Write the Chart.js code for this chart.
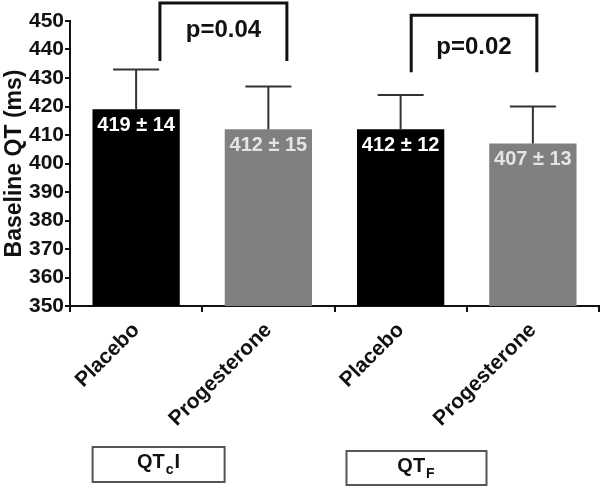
<!DOCTYPE html>
<html>
<head>
<meta charset="utf-8">
<script src="https://cdn.jsdelivr.net/npm/chart.js@4.4.1/dist/chart.umd.min.js"></script>
<style>
  html, body { margin: 0; padding: 0; background: #fff; }
</style>
</head>
<body>
<canvas id="qtChart" width="601" height="488"></canvas>
<script>
const categories = ['Placebo', 'Progesterone', 'Placebo', 'Progesterone'];
const baselineQT = [419, 412, 412, 407];
const sdQT = [14, 15, 12, 13];
const yTicks = [350, 360, 370, 380, 390, 400, 410, 420, 430, 440, 450];
const pLabels = ['p=0.04', 'p=0.02'];
const groupNames = [['QT', 'c', 'I'], ['QT', 'F', '']];

const FONT = '"Liberation Sans", Arial, sans-serif';

// brackets + group boxes, placed in axis units
const brackets = [
    { x0: 0.18, x1: 1.14, top: 456.3, bottom: 436, textY: 446.8 },
    { x0: 2.08, x1: 3.03, top: 452, bottom: 432, textY: 440.9 }
];
const boxes = [
    { cx: 0.17, w: 132, top: 447, h: 35 },
    { cx: 2.12, w: 140, top: 451, h: 34 }
];

const extras = {
    id: 'extras',
    afterDatasetsDraw(chart) {
        const ctx = chart.ctx;
        const y = chart.scales.y;
        const meta = chart.getDatasetMeta(0);
        ctx.save();
        // error bars (upper only)
        ctx.strokeStyle = '#333';
        ctx.lineWidth = 2;
        meta.data.forEach((bar, i) => {
            const top = y.getPixelForValue(baselineQT[i] + sdQT[i]);
            ctx.beginPath();
            ctx.moveTo(bar.x, bar.y);
            ctx.lineTo(bar.x, top);
            ctx.moveTo(bar.x - 23, top);
            ctx.lineTo(bar.x + 23, top);
            ctx.stroke();
        });
        // value labels inside bars
        ctx.font = 'bold 20px ' + FONT;
        ctx.textAlign = 'center';
        ctx.textBaseline = 'middle';
        meta.data.forEach((bar, i) => {
            ctx.fillStyle = i % 2 === 0 ? '#fff' : '#e4e4e4';
            ctx.fillText(baselineQT[i] + ' \u00b1 ' + sdQT[i], bar.x, bar.y + 16);
        });
        ctx.restore();
    },
    afterDraw(chart) {
        const ctx = chart.ctx;
        const x = chart.scales.x, y = chart.scales.y;
        ctx.save();
        // significance brackets
        ctx.strokeStyle = '#111';
        ctx.lineWidth = 3;
        brackets.forEach((b, i) => {
            const xa = x.getPixelForValue(b.x0), xb = x.getPixelForValue(b.x1);
            const yt = y.getPixelForValue(b.top), yb = y.getPixelForValue(b.bottom);
            ctx.beginPath();
            ctx.moveTo(xa, yb);
            ctx.lineTo(xa, yt);
            ctx.lineTo(xb, yt);
            ctx.lineTo(xb, yb);
            ctx.stroke();
            ctx.fillStyle = '#111';
            ctx.font = 'bold 24px ' + FONT;
            ctx.textAlign = 'center';
            ctx.textBaseline = 'middle';
            ctx.fillText(pLabels[i], (xa + xb) / 2, y.getPixelForValue(b.textY));
        });
        // group boxes under the axis
        ctx.strokeStyle = '#555';
        ctx.lineWidth = 2;
        boxes.forEach((bx, i) => {
            const cx = x.getPixelForValue(bx.cx);
            ctx.strokeRect(cx - bx.w / 2, bx.top, bx.w, bx.h);
            const [main, sub, tail] = groupNames[i];
            const big = 'bold 20px ' + FONT, small = 'bold 14px ' + FONT;
            ctx.font = big;
            const wMain = ctx.measureText(main).width;
            const wTail = ctx.measureText(tail).width;
            ctx.font = small;
            const wSub = ctx.measureText(sub).width;
            let tx = cx - (wMain + wSub + 2 + wTail) / 2;
            const ty = bx.top + bx.h / 2 - 2;
            ctx.fillStyle = '#111';
            ctx.textAlign = 'left';
            ctx.textBaseline = 'middle';
            ctx.font = big;
            ctx.fillText(main, tx, ty);
            tx += wMain + 1;
            ctx.font = small;
            ctx.fillText(sub, tx, ty + 8);
            tx += wSub + 1;
            ctx.font = big;
            ctx.fillText(tail, tx, ty);
        });
        ctx.restore();
    }
};

new Chart('qtChart', {
    type: 'bar',
    data: {
        labels: categories,
        datasets: [{
            data: baselineQT,
            backgroundColor: ['#000', '#808080', '#000', '#808080'],
            borderWidth: 0,
            barPercentage: 0.66,
            categoryPercentage: 1
        }]
    },
    options: {
        responsive: false,
        animation: false,
        devicePixelRatio: 1,
        layout: { padding: { top: 21, right: 2, left: 0, bottom: 0 } },
        plugins: {
            legend: { display: false },
            tooltip: { enabled: false }
        },
        scales: {
            x: {
                afterFit: (s) => { s.height = 182; },
                grid: { drawOnChartArea: false, drawTicks: true, tickLength: 6, color: '#111', lineWidth: 2 },
                border: { display: true, color: '#111', width: 2 },
                ticks: {
                    minRotation: 45,
                    maxRotation: 45,
                    padding: 6,
                    color: '#111',
                    font: { family: FONT, size: 21, weight: 'bold' }
                }
            },
            y: {
                min: 350,
                max: 450,
                afterFit: (s) => { s.width = 70; },
                afterBuildTicks: (s) => { s.ticks = yTicks.map(v => ({ value: v })); },
                grid: { drawOnChartArea: false, drawTicks: true, tickLength: 5, color: '#111', lineWidth: 2 },
                border: { display: true, color: '#111', width: 2 },
                ticks: {
                    padding: 1,
                    color: '#111',
                    font: { family: FONT, size: 21, weight: 'bold' }
                },
                title: {
                    display: true,
                    text: 'Baseline QT (ms)',
                    color: '#111',
                    padding: { top: 1, bottom: 0 },
                    font: { family: FONT, size: 23, weight: 'bold' }
                }
            }
        }
    },
    plugins: [extras]
});
</script>
</body>
</html>
